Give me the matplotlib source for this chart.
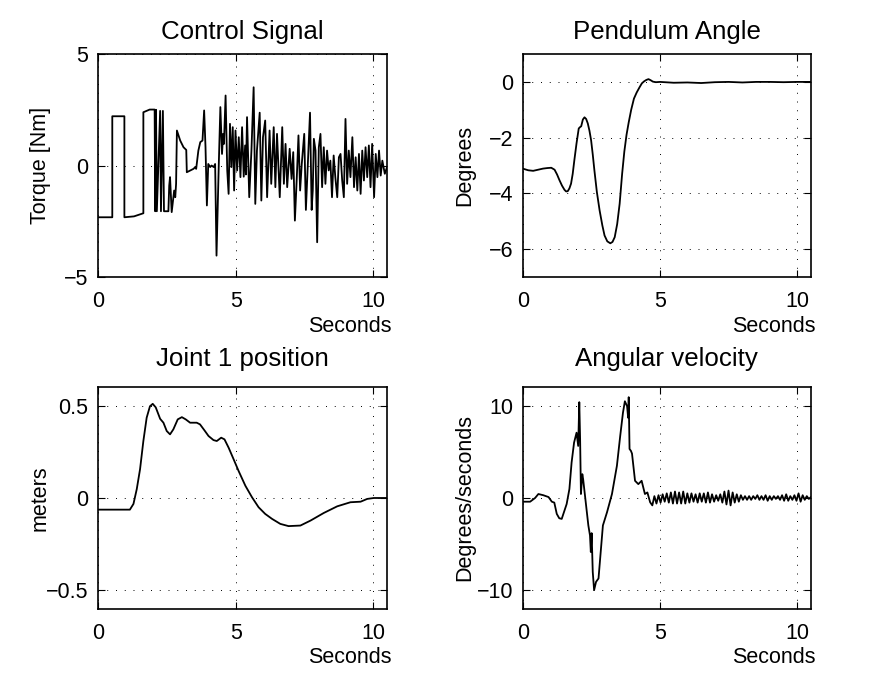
import numpy as np
import matplotlib
matplotlib.use('Agg')
import matplotlib.pyplot as plt
from matplotlib.ticker import FuncFormatter

plt.rcParams['font.family'] = ['Liberation Sans', 'DejaVu Sans']
plt.rcParams['font.size'] = 15.5

# control signal (torque, Nm)
ctrl_t = [0.0, 0.51, 0.51, 0.95, 0.95, 1.3, 1.64, 1.64, 1.87, 2.05, 2.07, 2.10, 2.13, 2.25,
          2.28, 2.35, 2.39, 2.55, 2.58, 2.61, 2.67, 2.76, 2.80, 2.83, 2.86, 2.98, 3.10, 3.20,
          3.22, 3.46, 3.53, 3.56, 3.64, 3.71, 3.79, 3.85, 3.90, 3.95, 4.00, 4.07, 4.12, 4.20,
          4.25, 4.30, 4.38, 4.44, 4.50, 4.54, 4.57, 4.63, 4.69, 4.74, 4.79, 4.84, 4.89, 4.94,
          4.99, 5.05, 5.11, 5.17, 5.23, 5.29, 5.34, 5.37, 5.41, 5.49, 5.57, 5.65, 5.71, 5.77,
          5.87, 5.93, 5.99, 6.07, 6.14, 6.23, 6.29, 6.38, 6.44, 6.50, 6.60, 6.69, 6.75, 6.81,
          6.87, 6.96, 7.03, 7.09, 7.15, 7.22, 7.28, 7.34, 7.40, 7.49, 7.55, 7.61, 7.70, 7.76,
          7.80, 7.84, 7.90, 7.96, 8.02, 8.08, 8.14, 8.20, 8.26, 8.32, 8.38, 8.44, 8.50, 8.56,
          8.62, 8.69, 8.75, 8.81, 8.87, 8.93, 8.99, 9.05, 9.11, 9.17, 9.24, 9.30, 9.36, 9.42,
          9.48, 9.54, 9.60, 9.66, 9.72, 9.78, 9.84, 9.90, 9.96, 10.03, 10.09, 10.15, 10.21,
          10.27, 10.33, 10.42, 10.5]
ctrl_v = [-2.32, -2.32, 2.21, 2.21, -2.32, -2.28, -2.14, 2.39, 2.51, 2.51, -2.05, 2.5, -2.05, 2.45,
          -2.05, 2.45, -2.05, -2.05, -0.9, -0.52, -2.09, -1.12, -1.42, -0.82, 1.57, 1.12, 0.82, 0.70,
          -0.3, -0.15, -0.07, -0.15, 0.67, 1.05, 1.12, 2.47, 0.82, -1.79, 0.07, -0.07, 0.0, -0.07,
          0.07, -4.04, -0.07, 2.62, 0.52, 1.42, 0.97, 3.14, -0.22, -1.27, 1.87, -0.07, 1.72, -1.12,
          1.57, -0.22, 1.27, -0.52, 1.72, -0.5, 0.9, -0.4, 2.17, -1.42, 0.67, 3.51, -1.72, 0.67,
          2.37, -1.57, 1.27, 2.02, -1.42, 1.57, -0.82, 1.72, -0.97, 1.42, -1.42, 1.72, -0.82, 0.97,
          -0.97, 0.75, -0.6, 0.6, -2.47, -0.52, 1.35, -1.12, 0.07, 1.42, -1.99, -0.22, 2.37, -1.99,
          -1.12, 1.2, 0.67, -3.44, 0.82, 1.42, -0.97, 0.82, -0.82, 0.67, -0.22, 0.22, -1.42, 0.45,
          -0.52, -1.42, 0.37, 0.52, -0.67, -1.42, 2.09, -0.82, 0.67, -0.52, 1.27, -0.97, 0.37, -1.12,
          0.52, -1.27, 0.67, -0.67, 0.82, -0.52, 0.9, -0.97, 0.97, -1.42, 0.52, -0.52, 0.67,
          -0.45, 0.22, -0.37, -0.07]

# pendulum angle (degrees)
pend_t = [0.0, 0.2, 0.38, 0.56, 0.74, 0.9, 1.04, 1.16, 1.25, 1.34, 1.43, 1.52, 1.58, 1.64,
          1.70, 1.76, 1.82, 1.88, 1.96, 2.04, 2.09, 2.13, 2.19, 2.25, 2.31, 2.37, 2.43, 2.49,
          2.55, 2.61, 2.70, 2.80, 2.90, 2.98, 3.08, 3.19, 3.27, 3.35, 3.44, 3.53, 3.62, 3.70,
          3.78, 3.86, 3.95, 4.05, 4.15, 4.25, 4.34, 4.42, 4.50, 4.58, 4.66, 4.74, 4.85, 5.0,
          5.5, 6.0, 6.5, 7.0, 7.5, 8.0, 8.5, 9.0, 9.5, 10.0, 10.5]
pend_v = [-3.11, -3.17, -3.19, -3.15, -3.11, -3.09, -3.08, -3.15, -3.32, -3.53, -3.72, -3.87,
          -3.93, -3.92, -3.82, -3.65, -3.3, -2.81, -2.2, -1.67, -1.62, -1.59, -1.35, -1.27,
          -1.33, -1.49, -1.75, -2.09, -2.6, -3.17, -3.95, -4.61, -5.15, -5.51, -5.72, -5.79,
          -5.74, -5.57, -5.1, -4.37, -3.3, -2.5, -1.9, -1.45, -1.0, -0.6, -0.38, -0.2, -0.05,
          0.02, 0.07, 0.1, 0.06, 0.01, -0.01, 0.0, -0.03, -0.02, -0.04, -0.01, 0.0, -0.02, 0.0,
          0.0, -0.01, 0.0, 0.0]

# joint 1 position (meters)
joint_t = [0.0, 1.15, 1.28, 1.40, 1.52, 1.64, 1.76, 1.88, 1.98, 2.09, 2.25, 2.37, 2.49, 2.61,
           2.73, 2.89, 3.04, 3.18, 3.34, 3.58, 3.70, 3.86, 4.01, 4.19, 4.31, 4.47, 4.59, 4.74,
           4.92, 5.10, 5.35, 5.59, 5.83, 6.07, 6.32, 6.62, 6.92, 7.35, 7.72, 8.2, 8.69, 9.17,
           9.54, 9.78, 10.02, 10.5]
joint_v = [-0.063, -0.063, -0.032, 0.048, 0.156, 0.308, 0.434, 0.496, 0.509, 0.49, 0.428,
           0.407, 0.362, 0.344, 0.371, 0.425, 0.437, 0.425, 0.407, 0.407, 0.398, 0.366, 0.335,
           0.313, 0.308, 0.326, 0.317, 0.272, 0.21, 0.147, 0.066, 0.004, -0.05, -0.086, -0.113,
           -0.14, -0.152, -0.149, -0.122, -0.081, -0.045, -0.023, -0.02, -0.005, 0.0, 0.0]

# angular velocity (degrees/seconds)
vel_t = [0.0, 0.27, 0.45, 0.57, 0.75, 0.94, 1.06, 1.15, 1.24, 1.33, 1.42, 1.50, 1.60, 1.70,
         1.78, 1.87, 1.96, 2.02, 2.06, 2.09, 2.12, 2.17, 2.20, 2.26, 2.33, 2.39, 2.45, 2.48,
         2.51, 2.55, 2.60, 2.67, 2.76, 2.82, 2.92, 3.07, 3.25, 3.43, 3.55, 3.65, 3.72, 3.80,
         3.84, 3.86, 3.89, 3.94, 3.98, 4.09, 4.21, 4.33, 4.39, 4.45, 4.54, 4.64]
vel_v = [-0.4, -0.4, 0.0, 0.43, 0.3, 0.1, -0.4, -0.5, -1.72, -2.19, -2.26, -1.54, -0.65, 0.97,
         3.84, 5.99, 7.06, 5.63, 10.36, 6.34, 0.43, 2.58, 2.04, 0.43, -1.54, -2.97, -4.05, -5.84,
         -3.8, -7.99, -9.96, -9.07, -8.7, -6.56, -2.97, -1.54, 0.43, 3.48, 6.7, 9.21, 10.46, 9.93,
         8.67, 10.9, 5.3, 5.1, 4.8, 1.86, 1.5, 1.86, 1.15, 0.43, 0.6, -0.46]
vel_tail = [-0.8, 0.2, -0.6, 0.3, -0.5, 0.4,
            -0.4, 0.5, -0.5, 0.6, -0.6, 0.7, -0.6, 0.6, -0.6, 0.7, -0.6, 0.5,
            -0.5, 0.5, -0.4, 0.4, -0.5, 0.5, -0.4, 0.5, -0.5, 0.6, -0.5, 0.4, -0.4,
            0.3, -0.3, 0.4, -0.5, 0.7, -0.7, 0.8, -0.8,
            0.6, -0.5, 0.4, -0.4, 0.3, -0.2, 0.2, -0.2,
            0.2, -0.2, 0.2, -0.1, 0.3, -0.2, 0.2, -0.2, 0.3, -0.3, 0.2, -0.2, 0.2, -0.1,
            0.2, -0.2, 0.3, -0.3, 0.4, -0.3, 0.2, -0.2, 0.3, -0.3, 0.5, -0.4, 0.3, -0.2,
            0.2, -0.1, 0.1]
vel_tail_t = 4.72 + 0.075 * np.arange(len(vel_tail))


def tick_fmt(v, pos):
    return ('%g' % v).replace('-', '\u2212')


def style_axes(ax, title, ylabel, ylim, yticks, title_pad):
    ax.set_xlim(0, 10.5)
    ax.set_ylim(*ylim)
    ax.set_xticks([0, 5, 10])
    ax.set_yticks(yticks)
    ax.xaxis.set_major_formatter(FuncFormatter(tick_fmt))
    ax.yaxis.set_major_formatter(FuncFormatter(tick_fmt))
    ax.grid(True, linestyle=(0, (1, 8)), color='black', linewidth=0.7)
    ax.tick_params(direction='in', top=True, right=True, length=5, width=0.8)
    ax.tick_params(axis='x', pad=10)
    ax.tick_params(axis='y', pad=7)
    for s in ax.spines.values():
        s.set_linewidth(1.2)
    ax.set_title(title, pad=title_pad)
    ax.set_xlabel('Seconds', ha='right', va='center')
    ax.xaxis.set_label_coords(1.015, -0.22)
    ax.set_ylabel(ylabel, va='center')
    ax.yaxis.set_label_coords(-0.2, 0.5)


fig = plt.figure(figsize=(8.75, 6.78), dpi=100)
ax1 = fig.add_axes([0.1123, 0.5914, 0.33, 0.3289])
ax2 = fig.add_axes([0.5974, 0.5914, 0.3295, 0.3289])
ax3 = fig.add_axes([0.1123, 0.1018, 0.33, 0.3274])
ax4 = fig.add_axes([0.5974, 0.1018, 0.3295, 0.3274])

ax1.plot(ctrl_t, ctrl_v, color='black', linewidth=1.3)
style_axes(ax1, 'Control Signal', 'Torque [Nm]', (-5, 5), [-5, 0, 5], 11)

ax2.plot(pend_t, pend_v, color='black', linewidth=1.3)
style_axes(ax2, 'Pendulum Angle', 'Degrees', (-7, 1), [-6, -4, -2, 0], 11)

ax3.plot(joint_t, joint_v, color='black', linewidth=1.3)
style_axes(ax3, 'Joint 1 position', 'meters', (-0.6, 0.6), [-0.5, 0, 0.5], 15)

ax4.plot(list(vel_t) + list(vel_tail_t), vel_v + vel_tail, color='black', linewidth=1.3)
style_axes(ax4, 'Angular velocity', 'Degrees/seconds', (-12, 12), [-10, 0, 10], 15)

fig.savefig('out.png', dpi=100, facecolor='white')
